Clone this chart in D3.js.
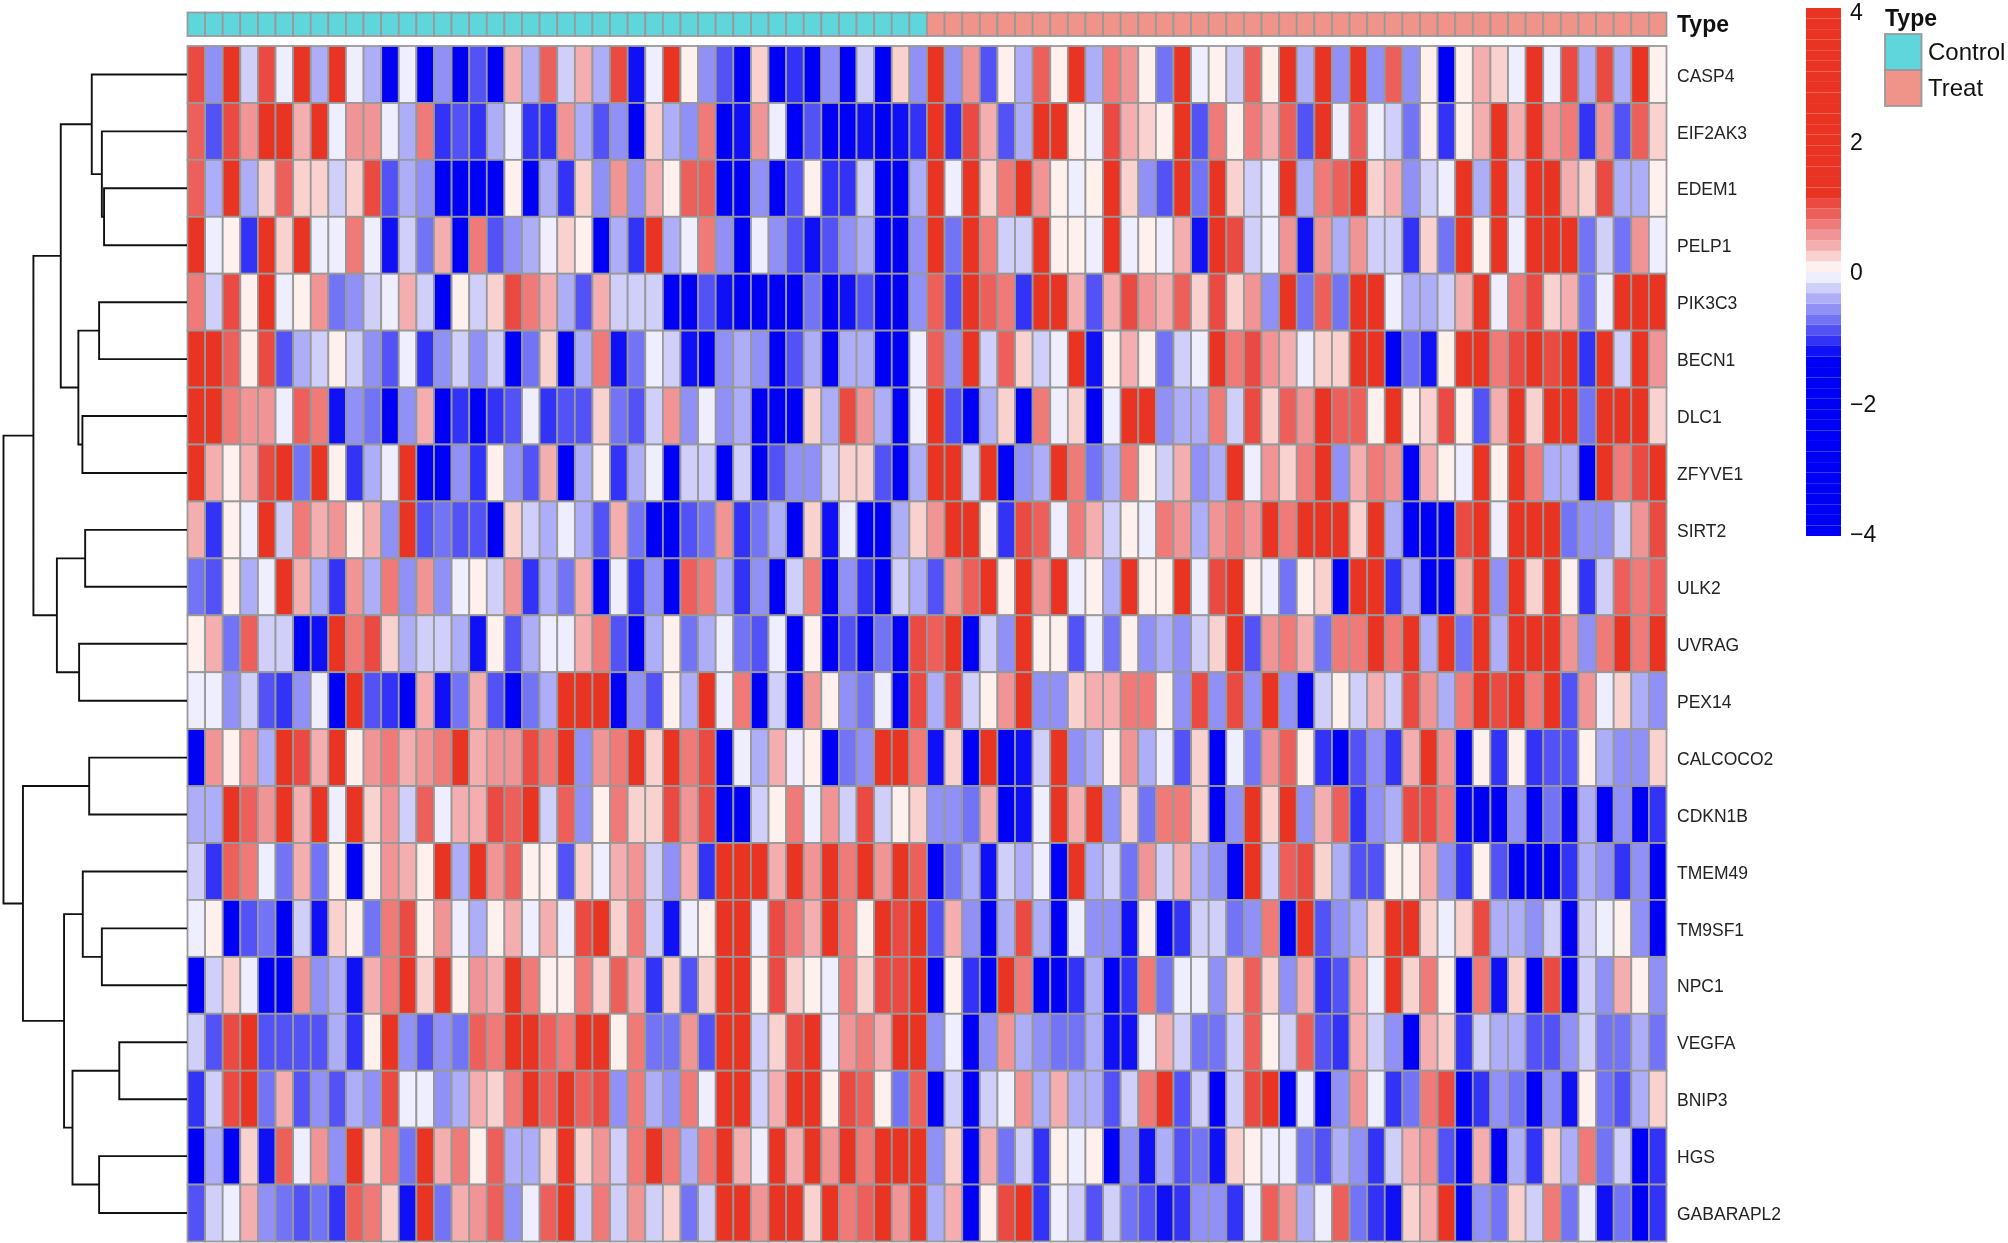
<html>
<head>
  <meta charset="utf-8">
  <script src="https://d3js.org/d3.v7.min.js"></script>
  <style>
    html, body { margin: 0; padding: 0; background: #fff; }
    svg { display: block; filter: blur(0.6px); }
    text { font-family: "Liberation Sans", Arial, sans-serif; fill: #111; }
  </style>
</head>
<body>
<svg id="chart" width="2008" height="1243"></svg>
<script>
  // values, one array per gene, samples left to right
  const CASP4 = [1,-.6,1.2,-.2,1,-.1,1.2,-.4,1.2,-.1,-.4,-1.4,-.1,-1.4,-.6,-1.4,-.9,-1.4,.4,-.4,.9,-.2,.4,-.4,1,-1.2,-.1,1.2,.1,-.6,-.9,-1.4,.2,-1.4,-1,-1.4,-.6,-1.4,-.2,-1.4,.2,-.6,1.2,-.6,.6,-.9,.1,-.4,.9,.1,1.2,-.4,.7,.6,.1,-.7,1.2,-.1,.1,-.2,.9,.1,1.2,-.4,1.2,-.6,1.2,-.6,.9,-.6,.1,-1.4,.1,.4,.2,-.1,1.2,-.1,1,-.4,1,-.4,1.2,.1];
  const EIF2AK3 = [.9,-.9,1,.6,1.2,1.2,.4,1.2,-.1,.6,.6,-.1,-.4,.7,-1,-.9,-1,-.4,-.1,-1,-1,.6,-.4,-.9,-.6,-1.4,.2,-.4,-.6,.7,-1.4,-1.2,.6,-.1,-1.4,-.9,-1.4,-1.4,-1.2,-1.4,-1.2,-1,1.2,-1,1,.4,-.9,-.4,1.2,1.2,.1,-.1,1,.4,.2,.1,1.2,-.9,.7,.1,.7,.4,.9,-.9,1.2,-.1,.9,-.1,-.2,-.7,.1,-1,.1,.4,1.2,.4,1.2,.6,.7,-1,.6,-.9,.9,.2];
  const EDEM1 = [.9,-.4,1.2,-.4,.2,.9,.2,.2,-.2,.2,1,-.9,-.4,-.6,-1.4,-1.4,-1.4,-1.4,.1,-1.4,-.4,-1,.2,-.6,.6,-.6,.4,.1,.9,.9,-1.4,-1.4,-.6,-1.4,-.9,.1,-1,-1,-.2,-1.4,-1.4,-.4,1.2,-.1,1.2,.2,.7,1.2,.6,.1,-.1,.1,1.2,.2,-.6,-.9,1.2,-.7,1.2,.2,-.2,-.1,1.2,-.4,.7,.9,1.2,.2,.4,-.6,-.2,-.1,1.2,-.4,1.2,-.2,1.2,1.2,.4,.2,1,-.4,-.4,.1];
  const PELP1 = [1.2,-.1,.1,-1,1.2,.2,1.2,-.1,-.1,.7,-.1,-1.2,-.2,-.7,.4,-1.4,.7,-.9,-.6,-.4,-.1,.2,.1,-1.4,-.4,-1,1.2,-.4,-.1,.7,-.6,-1.4,-.1,-.6,-.9,-1.2,-.9,-.6,-.4,-1.4,-1.4,-.6,1.2,-.7,1.2,.7,-.2,-.2,1.2,.1,.1,-.1,1.2,-.1,.1,-.1,.4,-1.2,1.2,1,-.2,-.1,.6,-1.2,.6,-.4,.6,-.2,-.2,-1,.2,-.7,1.2,.1,1.2,-.1,1.2,1.2,1.2,-.7,-.2,-.7,.6,-.1];
  const PIK3C3 = [.7,-.2,1,.1,1.2,-.1,.1,.6,-.7,-.6,-.2,-.1,.4,-.2,-1.4,.1,-.2,.2,1,.7,.4,-.4,-.9,.4,-.2,-.2,-.2,-1.4,-1.4,-.9,-1.2,-1.4,-1.4,-1.4,-1.4,-.7,-1.4,-1.2,-.9,-1.4,-1.4,-.6,.9,-.9,1.2,.9,.7,-1,1.2,1.2,.4,-.9,.4,1,.6,.4,.9,.2,1,.2,.6,-.6,1.2,-.7,.9,-.7,1.2,1.2,-.1,-.4,-.4,-.2,.4,1.2,-.1,.7,1,.2,.4,-.7,-.1,1.2,1.2,1.2];
  const BECN1 = [1.2,1.2,.9,.1,1,-.9,-.4,-.2,.1,-.2,-.6,-.9,-.1,-1,-.6,-.2,-.6,-.2,-1.4,-.7,.2,-1.4,-.4,.7,-1.2,-.7,-.1,-.2,-1.2,-1.4,-.6,-.4,-.6,-1.4,-.9,-.4,-1.4,-.4,-.4,-1.4,-1.4,-.1,.9,-.6,1.2,-.2,.9,.2,-.2,-.1,1.2,-1.2,.1,.4,.1,-.7,-.2,-.1,1.2,.7,1,.6,.4,-.1,.2,.2,1.2,1.2,-1.4,-.7,-1.2,.1,1.2,1.2,.7,1,1.2,1,1.2,-1,1.2,-.2,1.2,.6];
  const DLC1 = [1.2,1.2,.7,.6,.6,-.1,.9,.7,-1.2,-.6,-.7,-1.4,-.6,.4,-1.4,-1,-1.4,-1,-.9,-.1,-1,-.9,-.9,.2,-.7,-.9,-.2,.6,-.6,-.1,-.6,-.4,-1.4,-1.4,-1.4,.2,-.4,1,.6,-.4,-1.4,-.1,1.2,-.9,-1.4,-.4,.2,-1.4,.7,-.1,.2,-1.4,-.1,1.2,1.2,-.6,-.4,-.4,.7,-.2,1,.2,.9,.6,1.2,.9,.9,.1,1.2,.1,.2,1,.1,-.9,.4,1.2,.2,1.2,1.2,-.7,1.2,1.2,1.2,.2];
  const ZFYVE1 = [1.2,.4,.1,.4,1,1.2,-.7,1.2,.1,-1,-.4,-.1,1.2,-1.4,-1.4,-.6,-1,.1,-.6,-.9,.4,-1.4,-.4,.1,-1,-.4,-.1,-1.4,-.2,-.2,-1.4,-.2,-1.4,-.9,-.6,-.6,-.2,.2,.2,-.9,-1.4,-.4,1.2,1.2,-.2,1.2,-1.4,-.6,-.4,1.2,.7,-.7,-.4,.7,.1,-.2,.4,-.6,-.4,1.2,-.1,.6,.2,.7,1.2,-.6,.4,.7,.6,-1.4,.4,.1,-.1,1.2,.1,1.2,.7,-.4,-.4,-1.4,1.2,.7,1,1.2];
  const SIRT2 = [.4,-1,.1,-.1,1.2,-.2,.7,.4,.6,.1,.4,-.6,1.2,-.9,-.7,-.9,-.9,-1.4,.2,-.2,-.4,-.1,-.4,-.9,.4,-.7,-1.4,-1.4,-.9,-.7,.6,-1,-.7,-.4,-1.4,.2,-1.2,-.1,-1.4,-1.4,-.4,.2,.6,1.2,1.2,.1,-1,1,.9,-.1,.7,.4,-.2,.1,-.1,.7,.6,-.4,.6,.7,.6,1.2,.7,1.2,1.2,1.2,.2,1.2,-.4,-1.4,-1.4,-1.4,1,1.2,-.1,1.2,1.2,1.2,-.7,-.6,-.6,-.2,.6,1];
  const ULK2 = [-.7,-.9,.1,-.4,-.1,1.2,.4,-.4,-1,.6,-.4,.7,-.6,.6,-.6,-.1,.1,-.2,.6,-1,-.4,-.7,.4,-1.4,-.1,-1,-.6,-1.4,.9,.7,-.4,-1,-.6,-1.4,-.2,.7,-1.4,-.6,-1,-1.4,-.2,-.4,-.9,.6,.9,1.2,.1,1.2,.6,1.2,-.1,.1,-.4,1.2,.1,.1,1.2,-.1,1,1.2,.1,-.1,-.7,.1,.2,-1.4,1.2,1.2,-1,-.4,-1.4,-1.4,.4,1.2,-.6,1.2,.2,1.2,.1,-1,-.2,.9,.7,.9];
  const UVRAG = [.1,.4,-.7,.9,-.2,-.2,-1.4,-1.2,1.2,.7,1,.2,-.4,-.2,-.2,-.4,-1.2,.1,-.9,-.4,-.1,-.1,.4,.7,-.9,-1.4,-.4,.1,-.7,-.4,-.1,-.7,-.9,-.1,-1.4,.1,-1.4,-.9,-1.4,-.7,-1.4,1,.9,1.2,-1.4,-.2,-.6,1.2,.1,.1,-.9,-.1,-.7,.1,-.6,-.4,-.6,-.2,.2,1.2,-.9,.6,.7,.4,-.7,.7,.7,1.2,.7,1.2,-.4,1.2,-.7,1.2,-.4,1.2,1.2,1.2,.6,-.6,.7,1.2,.7,1.2];
  const PEX14 = [-.1,-.1,-.6,-.2,-.9,-1,-.6,-.1,-1.4,1.2,-.9,-1,-1.4,.4,-1.2,-.7,.4,-.9,-1.4,-.7,-.4,1.2,1.2,1.2,-1.4,-.6,-.9,.1,-.4,1.2,-.1,.7,-1.4,-.2,-1.4,.6,.1,-.6,-.7,-.1,-1.4,1,-.4,1,-.2,.1,.6,1.2,-.6,-.6,.2,.4,.4,.7,.7,.1,-.6,1,-.6,1,-.6,1.2,-.6,-1.4,-.2,.1,-.2,.4,-.2,1,.6,-.4,.7,1.2,1,1.2,.7,1.2,-.9,.6,-.1,.2,-.4,-.6];
  const CALCOCO2 = [-1.4,.6,.1,.6,-.4,1.2,1,.4,1.2,.1,.6,.7,.4,.6,.7,1.2,.4,.6,.6,1,.7,1.2,-.6,.6,.7,1.2,.2,1.2,.7,1,-1.4,-.1,-.4,.4,-.1,.1,-1.4,-.7,-.6,1.2,1.2,.7,-1.2,.2,-1.4,1.2,-1.4,-1.2,-.2,1.2,-.6,-.4,.1,.6,-.4,-.1,-.9,.2,-1.4,-.1,-.7,.6,.9,.1,-1,-1.4,-.9,-.6,-1,.4,1.2,.6,-1.4,.1,-1,.1,-1,-.9,-.9,.1,-.4,-.6,-.6,.2];
  const CDKN1B = [-.4,-.4,1.2,.9,.6,1.2,.4,1.2,-.1,1.2,.2,.6,-.2,.9,-.1,.4,.4,1,.9,1.2,-.2,.9,-.6,.1,.7,.2,.2,1,.6,1,-1.4,-1.4,-.2,.1,.7,-.1,.6,-.2,1,-.2,.1,.2,-.6,-.6,-.7,.4,-1.4,-1.2,-.1,1.2,.4,1.2,-.6,.2,-.7,.7,.7,.2,-1.4,-.6,1.2,.2,1.2,-.6,.4,.9,-1,-.6,-.4,1,1,.7,-1.4,-1.4,-1.4,-.6,-1.4,-.7,-1.4,-.4,-1.4,-.6,-1.4,-1];
  const TMEM49 = [-.2,-1,.9,.7,-.1,-.7,.4,-.7,.1,-1.4,.1,.6,.4,.1,1.2,-.4,1.2,.6,.9,.1,.1,-.9,.2,-.1,.4,.6,-.2,-.6,.4,-1,1.2,1.2,1.2,.4,1.2,.6,1.2,.7,1.2,.6,1.2,.9,-1.4,-.7,-.4,-1.2,-.2,-.4,-.1,-1.4,1.2,-.4,-.2,-.7,.6,-.2,.4,-.4,-.6,-1.4,1.2,-.2,.9,1,.2,-.4,-.9,-.9,.1,.1,.4,-.6,-1,.1,-.9,-1.4,-1.4,-1.4,-1,-.4,-.6,-1,-.6,-1.4];
  const TM9SF1 = [-.1,.1,-1.4,-.9,-.7,-1.4,-.2,-1.2,.2,.1,-.7,.7,1,.1,.6,-.1,-.4,.1,.4,-.1,.4,-.1,1,1.2,.2,.7,-.2,-1.2,-.1,.1,1.2,1.2,-.1,1,.7,.4,1.2,.7,.1,1.2,1,1.2,-.9,.4,-.6,-1.4,-.4,1,-.4,-1.4,-.1,-.6,-.6,-1.2,.1,-1.4,-1,-.2,-.2,-.7,-.6,.7,-1.4,1.2,-.9,-.6,-.4,.2,1.2,1.2,.2,-.1,.2,1,-.4,-.4,-.6,-.2,-1.4,-.2,-.1,.1,-.6,-1.4];
  const NPC1 = [-1.4,-.2,.2,-.1,-1.4,-1.4,.6,-.6,-.4,-1.2,.4,.7,1.2,.2,1.2,.1,.6,.4,1.2,.7,.1,.1,.7,.2,.9,.4,-1,.2,-.9,.2,1.2,1.2,.1,1,.2,.1,-.1,.7,.2,1,1,1.2,-1.4,.1,-1,-1.4,1.2,.7,-1.4,-1.4,-1,-.4,-1.4,-1,.7,-.7,-.1,-.1,-.6,.2,.9,.2,-.6,.4,-1,-.9,.4,-.1,1.2,.2,.7,.1,-1.4,.7,-1.2,.2,-1.4,1,-1.4,-.2,-.6,.4,.1,-.6];
  const VEGFA = [-.2,-.9,1,1.2,-.9,-.9,-.9,-.9,-.4,-1,.1,1.2,-.6,-.9,-.6,-.7,.9,.7,1.2,1.2,.9,.7,1.2,1.2,.1,.7,-.7,-.7,.6,-.9,1.2,1.2,-.2,.2,1,1.2,-.1,.6,.7,.4,1.2,1.2,-.6,-.1,-1.4,-.6,.6,-.4,-.6,-.7,-.7,-.4,-1.2,-1.2,-.1,.4,-.2,-.7,-.7,-.2,.9,.1,-.2,.9,-.9,-1,.4,-.2,-.6,-1.4,.4,.2,-1,-.2,-.4,-.4,-.9,-.9,-.6,-.2,-.7,-.7,-.4,-.7];
  const BNIP3 = [-1,-.2,1,1.2,-.7,.4,-.9,-.6,-.9,-.4,-.6,1,-.1,-.1,-.6,-.4,.4,.2,.7,1.2,.9,1.2,.9,1,-.6,.7,-.4,-.6,.7,-.1,1.2,1.2,-.2,.4,1.2,1.2,.1,1,.9,.1,-.7,.9,-1.4,-.2,-1.4,-.2,-.1,.6,-.4,.4,-.4,-.4,-.9,-.2,.7,1.2,-.9,-.2,-1.4,-.2,1,1.2,-1.4,-.1,-1.4,-.6,.6,-.1,-1,-.7,.7,1,-1.4,-1,-.6,-.7,-1.4,-.6,-1.2,.1,-.7,-.9,-.4,.2];
  const HGS = [-1.4,-.4,-1.4,.2,-1.2,.9,-.1,.6,-.6,1.2,.2,.7,-.7,1.2,.4,.7,.1,.9,-.4,-.4,.2,1.2,.2,.6,-.2,.7,1.2,.7,-.4,.7,1.2,.4,-.1,1.2,.4,1.2,.6,1.2,.7,1.2,1.2,1.2,-.6,.2,-1.4,.4,-.7,-.2,-1,.1,-.1,.1,-1.4,-.6,-1.2,-.4,-.9,-.7,-1.2,.2,.1,-.1,-.1,-.7,-.9,-.4,-.6,-1,-.2,.4,.6,-.9,-1.4,.4,-1.4,-.4,-1,.2,-.4,.7,-.7,-.2,-1.4,-1];
  const GABARAPL2 = [-.9,-.2,-.1,.4,-.6,-.7,-.9,-.7,-1,.9,.7,.2,-1.2,1.2,-.7,.4,.6,.9,-.6,-.1,.9,1.2,-.2,.7,-.2,.6,-.2,.2,-.7,-.2,1.2,1.2,.6,1.2,1.2,.2,1.2,.7,.9,1.2,.6,1.2,-.4,.4,-1.4,.1,1,1.2,-1,-.1,-.2,-.9,-.2,-.7,-.9,-1.2,-1,-.6,-.6,-1,-.1,.9,.6,-.4,-.1,.9,-.7,-1,-1.2,.2,.4,1.2,-1.4,-.6,-.7,.2,-.2,.7,-.7,-.1,-1.2,-.7,-1.4,-1];

  const genes = ['CASP4','EIF2AK3','EDEM1','PELP1','PIK3C3','BECN1','DLC1','ZFYVE1','SIRT2','ULK2','UVRAG','PEX14','CALCOCO2','CDKN1B','TMEM49','TM9SF1','NPC1','VEGFA','BNIP3','HGS','GABARAPL2'];
  const matrix = [CASP4,EIF2AK3,EDEM1,PELP1,PIK3C3,BECN1,DLC1,ZFYVE1,SIRT2,ULK2,UVRAG,PEX14,CALCOCO2,CDKN1B,TMEM49,TM9SF1,NPC1,VEGFA,BNIP3,HGS,GABARAPL2];

  const typeNames = ['Control','Treat'];
  const typeCounts = [42,42];
  const legendTicks = [4,2,0,-2,-4];

  // row tree, h = merge height
  const rowTree = {h:10,children:[
    {h:8.37,children:[
      {h:6.88,children:[
        {h:5.19,children:[{name:'CASP4'},{h:4.64,children:[{name:'EIF2AK3'},{h:4.52,children:[{name:'EDEM1'},{name:'PELP1'}]}]}]},
        {h:5.92,children:[{h:4.79,children:[{name:'PIK3C3'},{name:'BECN1'}]},{h:5.70,children:[{name:'DLC1'},{name:'ZFYVE1'}]}]}
      ]},
      {h:7.09,children:[{h:5.55,children:[{name:'SIRT2'},{name:'ULK2'}]},{h:5.88,children:[{name:'UVRAG'},{name:'PEX14'}]}]}
    ]},
    {h:8.94,children:[
      {h:5.33,children:[{name:'CALCOCO2'},{name:'CDKN1B'}]},
      {h:6.70,children:[
        {h:5.68,children:[{name:'TMEM49'},{h:4.64,children:[{name:'TM9SF1'},{name:'NPC1'}]}]},
        {h:6.24,children:[{h:3.69,children:[{name:'VEGFA'},{name:'BNIP3'}]},{h:4.79,children:[{name:'HGS'},{name:'GABARAPL2'}]}]}
      ]}
    ]}
  ]};

  // blue -> white -> red, 50 steps over -4..4, flat beyond about +-1.2
  const palette = [].concat(
    d3.range(17).map(() => '#0000f6'),
    ['#1010f7','#3333f7','#5252f6','#7373f6','#9090f7','#adadf8','#cfcffa','#eeeefe'],
    ['#fdf0ed','#f9d2d0','#f4aeb0','#f19496','#f07a78','#ec5f5b','#eb4a42'],
    d3.range(18).map(() => '#e93323')
  );
  const typeColor = d3.scaleOrdinal().domain(typeNames).range(['#5fd6dc','#f09389']);
  const color = d3.scaleQuantize().domain([-4,4]).range(palette);
  const gridColor = '#999';

  const svg = d3.select('#chart');
  const nCols = d3.sum(typeCounts);
  const sampleType = typeNames.flatMap((t,i) => d3.range(typeCounts[i]).map(() => t));

  const x = d3.scaleBand().domain(d3.range(nCols)).range([187.5,1666.5]);
  const y = d3.scaleBand().domain(genes).range([46,1241.5]);

  // annotation strip
  svg.append('g').selectAll('rect').data(sampleType).enter().append('rect')
    .attr('x', (d,i) => x(i)).attr('y', 12.5)
    .attr('width', x.bandwidth()).attr('height', 23.5)
    .attr('fill', d => typeColor(d))
    .attr('stroke', gridColor).attr('stroke-width', 1.8);

  svg.append('text').text('Type').attr('x', 1677).attr('y', 32)
    .attr('font-size', 23).attr('font-weight', 'bold');

  // heatmap cells
  const rows = svg.append('g').selectAll('g').data(matrix).enter().append('g')
    .attr('transform', (d,i) => 'translate(0,' + y(genes[i]) + ')');
  rows.selectAll('rect').data(d => d).enter().append('rect')
    .attr('x', (d,i) => x(i)).attr('y', 0)
    .attr('width', x.bandwidth()).attr('height', y.bandwidth())
    .attr('fill', d => color(d))
    .attr('stroke', gridColor).attr('stroke-width', 1.8);

  // gene labels
  svg.append('g').selectAll('text').data(genes).enter().append('text')
    .text(d => d)
    .attr('x', 1677).attr('y', d => y(d) + y.bandwidth() / 2 + 1)
    .attr('dy', '0.35em').attr('font-size', 17.5).style('fill', '#222');

  // dendrogram
  const hx = d3.scaleLinear().domain([0,10]).range([187,3.5]);
  const root = d3.hierarchy(rowTree);
  root.eachAfter(n => {
    if (n.children) {
      n.py = (n.children[0].py + n.children[1].py) / 2;
      n.px = hx(n.data.h);
    } else {
      n.py = y(n.data.name) + y.bandwidth() / 2;
      n.px = hx(0);
    }
  });
  const treePath = d3.path();
  root.descendants().filter(n => n.children).forEach(n => {
    const a = n.children[0], b = n.children[1];
    treePath.moveTo(a.px, a.py);
    treePath.lineTo(n.px, a.py);
    treePath.lineTo(n.px, b.py);
    treePath.lineTo(b.px, b.py);
  });
  svg.append('path').attr('d', treePath.toString())
    .attr('fill', 'none').attr('stroke', '#111').attr('stroke-width', 1.9);

  // colour bar
  const bar = d3.scaleBand().domain(d3.range(palette.length)).range([536,8]);
  svg.append('g').selectAll('rect').data(palette).enter().append('rect')
    .attr('x', 1806).attr('y', (d,i) => bar(i))
    .attr('width', 35).attr('height', bar.bandwidth())
    .attr('fill', d => d);

  const barScale = d3.scaleLinear().domain([-4,4]).range([536,8]);
  const barAxis = svg.append('g').attr('transform', 'translate(1847,0)')
    .call(d3.axisRight(barScale).tickValues(legendTicks).tickSize(0).tickFormat(d3.format('d')));
  barAxis.select('.domain').remove();
  barAxis.selectAll('text')
    .attr('font-size', 23).attr('font-family', null)
    .attr('dy', d => d === 4 ? '0.48em' : d === -4 ? '0.23em' : d === 2 ? '0.4em' : '0.32em');

  // Type legend
  svg.append('text').text('Type').attr('x', 1885).attr('y', 26)
    .attr('font-size', 23).attr('font-weight', 'bold');
  const leg = svg.append('g').selectAll('g').data(typeNames).enter().append('g')
    .attr('transform', (d,i) => 'translate(1885,' + (34 + i * 36) + ')');
  leg.append('rect').attr('width', 36.5).attr('height', 36)
    .attr('fill', d => typeColor(d))
    .attr('stroke', gridColor).attr('stroke-width', 1.8);
  leg.append('text').text(d => d).attr('x', 43).attr('y', 18)
    .attr('dy', '0.35em').attr('font-size', 24);
</script>
</body>
</html>
